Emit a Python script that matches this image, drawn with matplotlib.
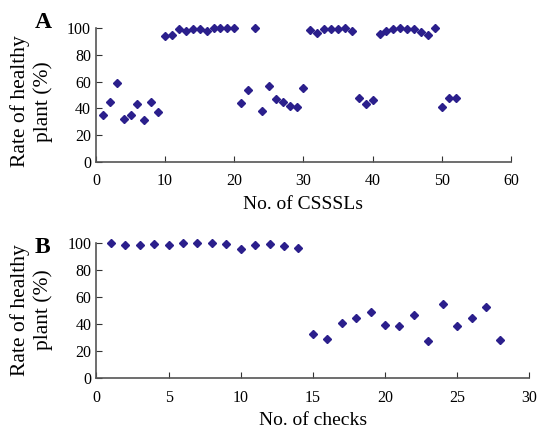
import matplotlib
matplotlib.use("Agg")
import matplotlib.pyplot as plt

# Panel A: CSSSL lines 1..52
csssl_no = list(range(1, 53))
csssl_rate = [35, 44.5, 59, 32, 35, 43, 31, 45, 37,
              94, 95, 99, 98, 99.5, 99, 98, 100, 100, 100, 100,
              44, 54, 100, 38, 57, 47, 44.5, 41.5, 41, 55.5,
              98.5, 96.5, 99.3, 99.3, 99.3, 100, 97.8,
              47.5, 43, 46,
              95.5, 97.8, 99.3, 100, 99.3, 99.3, 97, 94.8, 100,
              41, 47.5, 47.5]

# Panel B: checks 1..28
check_no = list(range(1, 29))
check_rate = [100, 98.3, 98.3, 99, 98.3, 100, 100, 100, 99, 95.6,
              98.3, 99, 97.5, 96.3,
              32.7, 29.3, 40.9, 44.3, 48.8, 39.4, 38.7, 46.5, 27.8,
              55.2, 38.7, 44.3, 52.5, 28.5]

ylabel_lines = ["Rate of healthy", "plant (%)"]

plt.rcParams["font.family"] = ["Liberation Serif", "DejaVu Serif"]
MARK = "#2b1f8c"

fig = plt.figure(figsize=(5.39, 4.33), dpi=100)
axA = fig.add_axes([0.178, 0.626, 0.770, 0.309])
axB = fig.add_axes([0.179, 0.126, 0.803, 0.313])


def style(ax, xmax, xstep, xlabel, ylab_y):
    ax.set_ylim(0, 100)
    ax.set_xlim(0, xmax)
    ax.set_xticks(range(0, xmax + 1, xstep))
    ax.set_yticks(range(0, 101, 20))
    for s in ("top", "right"):
        ax.spines[s].set_visible(False)
    for s in ("left", "bottom"):
        ax.spines[s].set_color("#555555")
        ax.spines[s].set_linewidth(1.2)
    ax.tick_params(direction="in", length=4, labelsize=11.5, color="#333333")
    ax.tick_params(axis="x", pad=8)
    ax.set_xlabel(xlabel, fontsize=14, labelpad=5)
    # two-line y label, one text per line
    for xpos, line in zip((0.038, 0.080), ylabel_lines):
        fig.text(xpos, ylab_y, line, fontsize=15.5, rotation=90,
                 ha="center", va="center")


axA.plot(csssl_no, csssl_rate, "D", color=MARK, markersize=4,
         clip_on=False, linestyle="none")
style(axA, 60, 10, "No. of CSSSLs", 0.766)

axB.plot(check_no, check_rate, "D", color=MARK, markersize=4,
         clip_on=False, linestyle="none")
style(axB, 30, 5, "No. of checks", 0.284)

fig.text(0.065, 0.947, "A", fontsize=17, fontweight="bold", va="center")
fig.text(0.065, 0.428, "B", fontsize=17, fontweight="bold", va="center")

fig.savefig("out.png", dpi=100)
